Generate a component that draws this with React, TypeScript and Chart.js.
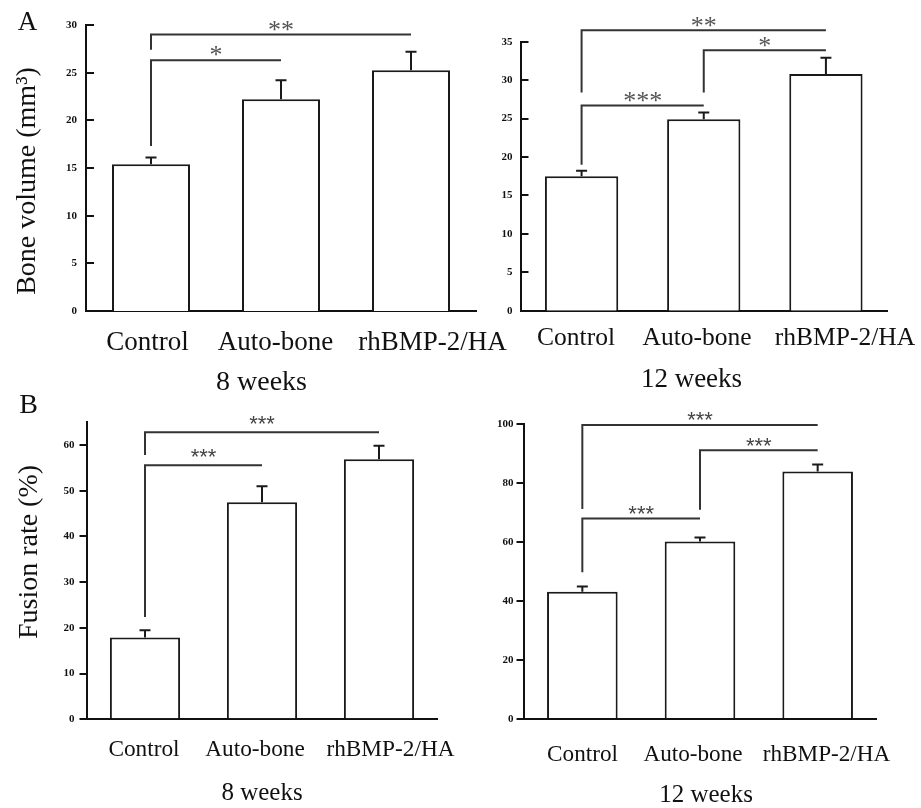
import React, { useEffect, useRef } from "react";
import { Chart, registerables } from "chart.js";

Chart.register(...registerables);

const SERIF = '"Liberation Serif", "Times New Roman", serif';
const SANS = '"Liberation Sans", Arial, sans-serif';

// ---------- data ----------
const categories = ["Control", "Auto-bone", "rhBMP-2/HA"];

const boneVolume8w = [15.4, 22.2, 25.25];
const boneVolume8wErr = [0.7, 2.0, 1.95];
const boneVolume12w = [17.5, 24.9, 30.8];
const boneVolume12wErr = [0.7, 0.9, 2.1];
const fusionRate8w = [17.9, 47.5, 56.9];
const fusionRate8wErr = [1.6, 3.5, 2.95];
const fusionRate12w = [43.2, 60.2, 84.0];
const fusionRate12wErr = [1.8, 1.4, 2.4];

type Bracket = { from: number; to: number; y: number; leg: number; label: string };

const boneVolume8wBrackets: Bracket[] = [
  { from: 0, to: 2, y: 29.0, leg: 27.4, label: "**" },
  { from: 0, to: 1, y: 26.3, leg: 17.3, label: "*" },
];
const boneVolume12wBrackets: Bracket[] = [
  { from: 0, to: 2, y: 36.5, leg: 28.4, label: "**" },
  { from: 1, to: 2, y: 33.9, leg: 28.4, label: "*" },
  { from: 0, to: 1, y: 26.7, leg: 19.0, label: "***" },
];
const fusionRate8wBrackets: Bracket[] = [
  { from: 0, to: 2, y: 62.8, leg: 57.8, label: "***" },
  { from: 0, to: 1, y: 55.6, leg: 22.4, label: "***" },
];
const fusionRate12wBrackets: Bracket[] = [
  { from: 0, to: 2, y: 99.8, leg: 71.3, label: "***" },
  { from: 1, to: 2, y: 91.2, leg: 71.0, label: "***" },
  { from: 0, to: 1, y: 68.0, leg: 49.8, label: "***" },
];

const yTitleBone = "Bone volume (mm³)";
const yTitleFusion = "Fusion rate (%)";
const week8 = "8 weeks";
const week12 = "12 weeks";

// ---------- layout / styles ----------
const PAGE_W = 921;
const PAGE_H = 808;
const Y_W = 40;
const X_H = 70;

type TextSpec = { text: string; x: number; y: number; size: number };

type Panel = {
  values: number[];
  errors: number[];
  brackets: Bracket[];
  area: { left: number; right: number; top: number; bottom: number };
  max: number;
  tickMax: number;
  step: number;
  outTicks: boolean;
  tickPad: number;
  tickSize: number;
  cat: { centers: number[]; baseline: number; size: number };
  week: TextSpec;
  yTitle?: TextSpec;
  letter?: TextSpec;
  star: { family: string; size: number; color: string; offset: number };
};

const panels: Panel[] = [
  {
    values: boneVolume8w,
    errors: boneVolume8wErr,
    brackets: boneVolume8wBrackets,
    area: { left: 86, right: 476, top: 25, bottom: 311 },
    max: 30,
    tickMax: 30,
    step: 5,
    outTicks: false,
    tickPad: 9,
    tickSize: 11,
    cat: { centers: [147.5, 275.5, 432.5], baseline: 350, size: 27 },
    week: { text: week8, x: 261.5, y: 390, size: 28 },
    yTitle: { text: yTitleBone, x: 35, y: 181, size: 28 },
    letter: { text: "A", x: 27.5, y: 30, size: 27 },
    star: { family: SERIF, size: 26, color: "#555", offset: 9 },
  },
  {
    values: boneVolume12w,
    errors: boneVolume12wErr,
    brackets: boneVolume12wBrackets,
    area: { left: 520.5, right: 887, top: 41.7, bottom: 310.7 },
    max: 35,
    tickMax: 35,
    step: 5,
    outTicks: false,
    tickPad: 8,
    tickSize: 11,
    cat: { centers: [576, 697, 845], baseline: 345, size: 25.5 },
    week: { text: week12, x: 691.5, y: 387, size: 27 },
    star: { family: SERIF, size: 26, color: "#555", offset: 8 },
  },
  {
    values: fusionRate8w,
    errors: fusionRate8wErr,
    brackets: fusionRate8wBrackets,
    area: { left: 86.5, right: 437.5, top: 422.2, bottom: 719.3 },
    max: 65,
    tickMax: 60,
    step: 10,
    outTicks: true,
    tickPad: 5,
    tickSize: 11,
    cat: { centers: [144, 255, 390.5], baseline: 756, size: 23.3 },
    week: { text: week8, x: 262, y: 800, size: 25 },
    yTitle: { text: yTitleFusion, x: 37, y: 552, size: 28 },
    letter: { text: "B", x: 28.5, y: 413, size: 28 },
    star: { family: SANS, size: 22, color: "#444", offset: 12.5 },
  },
  {
    values: fusionRate12w,
    errors: fusionRate12wErr,
    brackets: fusionRate12wBrackets,
    area: { left: 523.5, right: 876.5, top: 424.3, bottom: 719 },
    max: 100,
    tickMax: 100,
    step: 20,
    outTicks: true,
    tickPad: 3,
    tickSize: 11,
    cat: { centers: [582.5, 693, 826.5], baseline: 761, size: 23.2 },
    week: { text: week12, x: 706, y: 802, size: 25 },
    star: { family: SANS, size: 22, color: "#444", offset: 8.5 },
  },
];

const INK = "#111";

function makeChart(canvas: HTMLCanvasElement, p: Panel) {
  const extras = {
    id: "extras",
    afterDatasetsDraw(chart: any) {
      const ctx: CanvasRenderingContext2D = chart.ctx;
      const xs = chart.scales.x;
      const ys = chart.scales.y;
      ctx.save();
      ctx.strokeStyle = "#1a1a1a";
      ctx.lineWidth = 2;
      p.values.forEach((v, i) => {
        const cx = xs.getPixelForValue(i);
        const y0 = ys.getPixelForValue(v);
        const y1 = ys.getPixelForValue(v + p.errors[i]);
        ctx.beginPath();
        ctx.moveTo(cx, y0);
        ctx.lineTo(cx, y1);
        ctx.moveTo(cx - 5.5, y1);
        ctx.lineTo(cx + 5.5, y1);
        ctx.stroke();
      });
      ctx.restore();
    },
    afterDraw(chart: any) {
      const ctx: CanvasRenderingContext2D = chart.ctx;
      const xs = chart.scales.x;
      const ys = chart.scales.y;
      const ca = chart.chartArea;
      ctx.save();
      // inward ticks
      if (!p.outTicks) {
        ctx.strokeStyle = INK;
        ctx.lineWidth = 2;
        ys.ticks.forEach((t: any) => {
          const py = Math.round(ys.getPixelForValue(t.value));
          ctx.beginPath();
          ctx.moveTo(ca.left, py);
          ctx.lineTo(ca.left + 8, py);
          ctx.stroke();
        });
      }
      // brackets
      ctx.strokeStyle = "#333";
      ctx.lineWidth = 2;
      p.brackets.forEach((b) => {
        const x1 = xs.getPixelForValue(b.from);
        const x2 = xs.getPixelForValue(b.to);
        const yy = ys.getPixelForValue(b.y);
        const yl = ys.getPixelForValue(b.leg);
        ctx.beginPath();
        ctx.moveTo(x1, yl);
        ctx.lineTo(x1, yy);
        ctx.lineTo(x2, yy);
        ctx.stroke();
        // stars
        ctx.fillStyle = p.star.color;
        ctx.font = `${p.star.size}px ${p.star.family}`;
        ctx.textAlign = "center";
        ctx.textBaseline = "alphabetic";
        const m = ctx.measureText(b.label);
        const asc = m.actualBoundingBoxAscent;
        const desc = m.actualBoundingBoxDescent;
        const cy = yy - p.star.offset;
        ctx.fillText(b.label, (x1 + x2) / 2, cy + (asc - desc) / 2);
      });
      // texts
      ctx.fillStyle = INK;
      ctx.textAlign = "center";
      ctx.textBaseline = "alphabetic";
      // category labels
      ctx.font = `${p.cat.size}px ${SERIF}`;
      categories.forEach((c, i) => {
        ctx.fillText(c, p.cat.centers[i], p.cat.baseline);
      });
      ctx.font = `${p.week.size}px ${SERIF}`;
      ctx.fillText(p.week.text, p.week.x, p.week.y);
      if (p.letter) {
        ctx.font = `${p.letter.size}px ${SERIF}`;
        ctx.fillText(p.letter.text, p.letter.x, p.letter.y);
      }
      if (p.yTitle) {
        ctx.save();
        ctx.translate(p.yTitle.x, p.yTitle.y);
        ctx.rotate(-Math.PI / 2);
        ctx.font = `${p.yTitle.size}px ${SERIF}`;
        ctx.fillText(p.yTitle.text, 0, 0);
        ctx.restore();
      }
      ctx.restore();
    },
  };

  return new Chart(canvas, {
    type: "bar",
    data: {
      labels: categories,
      datasets: [
        {
          data: p.values,
          backgroundColor: "#ffffff",
          borderColor: "#1a1a1a",
          borderWidth: 2,
          barPercentage: 0.6,
          categoryPercentage: 1,
        },
      ],
    },
    options: {
      responsive: false,
      animation: false,
      layout: {
        padding: {
          left: p.area.left - Y_W,
          top: p.area.top,
          right: PAGE_W - p.area.right,
          bottom: PAGE_H - p.area.bottom - X_H,
        },
      },
      plugins: {
        legend: { display: false },
        tooltip: { enabled: false },
        title: { display: false },
      },
      scales: {
        x: {
          type: "category",
          offset: true,
          grid: { display: false, drawTicks: false },
          border: { display: true, color: INK, width: 2 },
          ticks: { display: false, autoSkip: false, maxRotation: 0 },
          afterFit(s: any) {
            s.height = X_H;
          },
        },
        y: {
          type: "linear",
          min: 0,
          max: p.max,
          border: { display: true, color: INK, width: 2 },
          grid: {
            display: p.outTicks,
            drawOnChartArea: false,
            drawTicks: p.outTicks,
            tickLength: 7,
            color: INK,
            lineWidth: 2,
          },
          ticks: {
            stepSize: p.step,
            color: INK,
            font: { family: SERIF, size: p.tickSize, weight: "bold" },
            padding: p.tickPad,
          },
          afterFit(s: any) {
            s.width = Y_W;
          },
          afterBuildTicks(s: any) {
            s.ticks = s.ticks.filter((t: any) => t.value <= p.tickMax);
          },
        },
      },
    } as any,
    plugins: [extras as any],
  });
}

export default function App() {
  const refs = [
    useRef<HTMLCanvasElement>(null),
    useRef<HTMLCanvasElement>(null),
    useRef<HTMLCanvasElement>(null),
    useRef<HTMLCanvasElement>(null),
  ];

  useEffect(() => {
    const charts = panels.map((p, i) => makeChart(refs[i].current!, p));
    return () => charts.forEach((c) => c.destroy());
  }, []);

  return (
    <div
      style={{
        position: "absolute",
        left: 0,
        top: 0,
        width: PAGE_W,
        height: PAGE_H,
        background: "#ffffff",
        overflow: "hidden",
      }}
    >
      {refs.map((r, i) => (
        <canvas
          key={i}
          ref={r}
          width={PAGE_W}
          height={PAGE_H}
          style={{ position: "absolute", left: 0, top: 0, width: PAGE_W, height: PAGE_H }}
        />
      ))}
    </div>
  );
}
